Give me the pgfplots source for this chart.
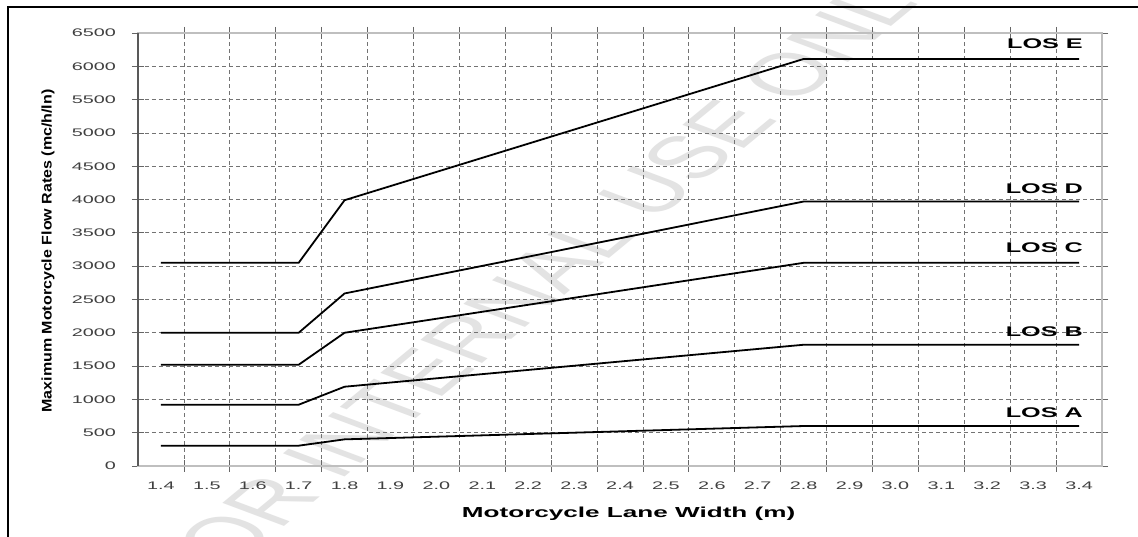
\documentclass[border=0pt]{standalone}
\usepackage{pgfplots}
\pgfplotsset{compat=1.18}
\usepackage{graphicx}
\usepackage{fontspec}
\setmainfont{Liberation Sans}
\newcommand\sx[1]{\scalebox{1.8}[1]{#1}}

\begin{document}
\begin{tikzpicture}[x=1pt,y=1pt]
\useasboundingbox (0,0) rectangle (1138,537);
\fill[white] (0,0) rectangle (1138,537);
\node[transform shape, xscale=1.8, rotate=56, text=black!11, font=\fontsize{60}{60}\selectfont, inner sep=0pt] at (545,262) {FOR INTERNAL USE ONLY};
\begin{axis}[
  at={(138pt,71pt)}, anchor=south west,
  scale only axis, width=964pt, height=433pt,
  xmin=1.35, xmax=3.45, ymin=0, ymax=6500,
  ytick={0,500,1000,1500,2000,2500,3000,3500,4000,4500,5000,5500,6000,6500},
  yticklabels={\sx{0},\sx{500},\sx{1000},\sx{1500},\sx{2000},\sx{2500},\sx{3000},\sx{3500},\sx{4000},\sx{4500},\sx{5000},\sx{5500},\sx{6000},\sx{6500}},
  xtick={1.45,1.55,1.65,1.75,1.85,1.95,2.05,2.15,2.25,2.35,2.45,2.55,2.65,2.75,2.85,2.95,3.05,3.15,3.25,3.35},
  xticklabels={},
  extra x ticks={1.4,1.5,1.6,1.7,1.8,1.9,2.0,2.1,2.2,2.3,2.4,2.5,2.6,2.7,2.8,2.9,3.0,3.1,3.2,3.3,3.4},
  extra x tick labels={\sx{1.4},\sx{1.5},\sx{1.6},\sx{1.7},\sx{1.8},\sx{1.9},\sx{2.0},\sx{2.1},\sx{2.2},\sx{2.3},\sx{2.4},\sx{2.5},\sx{2.6},\sx{2.7},\sx{2.8},\sx{2.9},\sx{3.0},\sx{3.1},\sx{3.2},\sx{3.3},\sx{3.4}},
  extra x tick style={grid=none, major tick length=0pt},
  grid=major,
  major grid style={black!55, line width=0.8pt, dash pattern=on 4pt off 3pt},
  tick align=center, major tick length=12pt,
  tick style={gray!80!black, line width=0.8pt},
  axis line style={gray!50, line width=1.2pt},
  tick label style={font=\fontsize{11}{13}\selectfont, text=black!75, inner sep=0pt},
  xticklabel shift=16pt, yticklabel shift=16pt,
  xlabel={\sx{\bfseries\fontsize{14.5}{16}\selectfont Motorcycle Lane Width (m)}},
  xlabel style={at={(axis description cs:0.5089,-0.118)}, anchor=base, inner sep=0pt},
  ylabel={\resizebox*{323pt}{13pt}{\bfseries Maximum Motorcycle Flow Rates (mc/h/ln)}},
  ylabel style={at={(axis description cs:-0.0934,0.4965)}, anchor=center, inner sep=0pt},
  clip=false,
]
% LOS E
\addplot[black, line width=1.8pt, mark=none] coordinates {(1.4,3050) (1.7,3050) (1.8,3990) (2.8,6110) (3.4,6110)};
% LOS D
\addplot[black, line width=1.8pt, mark=none] coordinates {(1.4,2000) (1.7,2000) (1.8,2590) (2.8,3970) (3.4,3970)};
% LOS C
\addplot[black, line width=1.8pt, mark=none] coordinates {(1.4,1520) (1.7,1520) (1.8,2000) (2.8,3050) (3.4,3050)};
% LOS B
\addplot[black, line width=1.8pt, mark=none] coordinates {(1.4,920) (1.7,920) (1.8,1190) (2.8,1820) (3.4,1820)};
% LOS A
\addplot[black, line width=1.8pt, mark=none] coordinates {(1.4,305) (1.7,305) (1.8,400) (2.8,600) (3.4,600)};
\draw[black!65, line width=1.3pt] (rel axis cs:0,0) -- (rel axis cs:0,1);
\begin{scope}[every node/.style={anchor=base east, inner sep=0pt, font=\bfseries\fontsize{14}{16}\selectfont}]
\node at (axis cs:3.4086,6260) {\sx{LOS E}};
\node at (axis cs:3.4086,4098) {\sx{LOS D}};
\node at (axis cs:3.4086,3212) {\sx{LOS C}};
\node at (axis cs:3.4086,1951) {\sx{LOS B}};
\node at (axis cs:3.4086,735) {\sx{LOS A}};
\end{scope}
\end{axis}
\draw[black, line width=2.5pt] (8,0) -- (8,530) -- (1138,530);
\end{tikzpicture}
\end{document}
